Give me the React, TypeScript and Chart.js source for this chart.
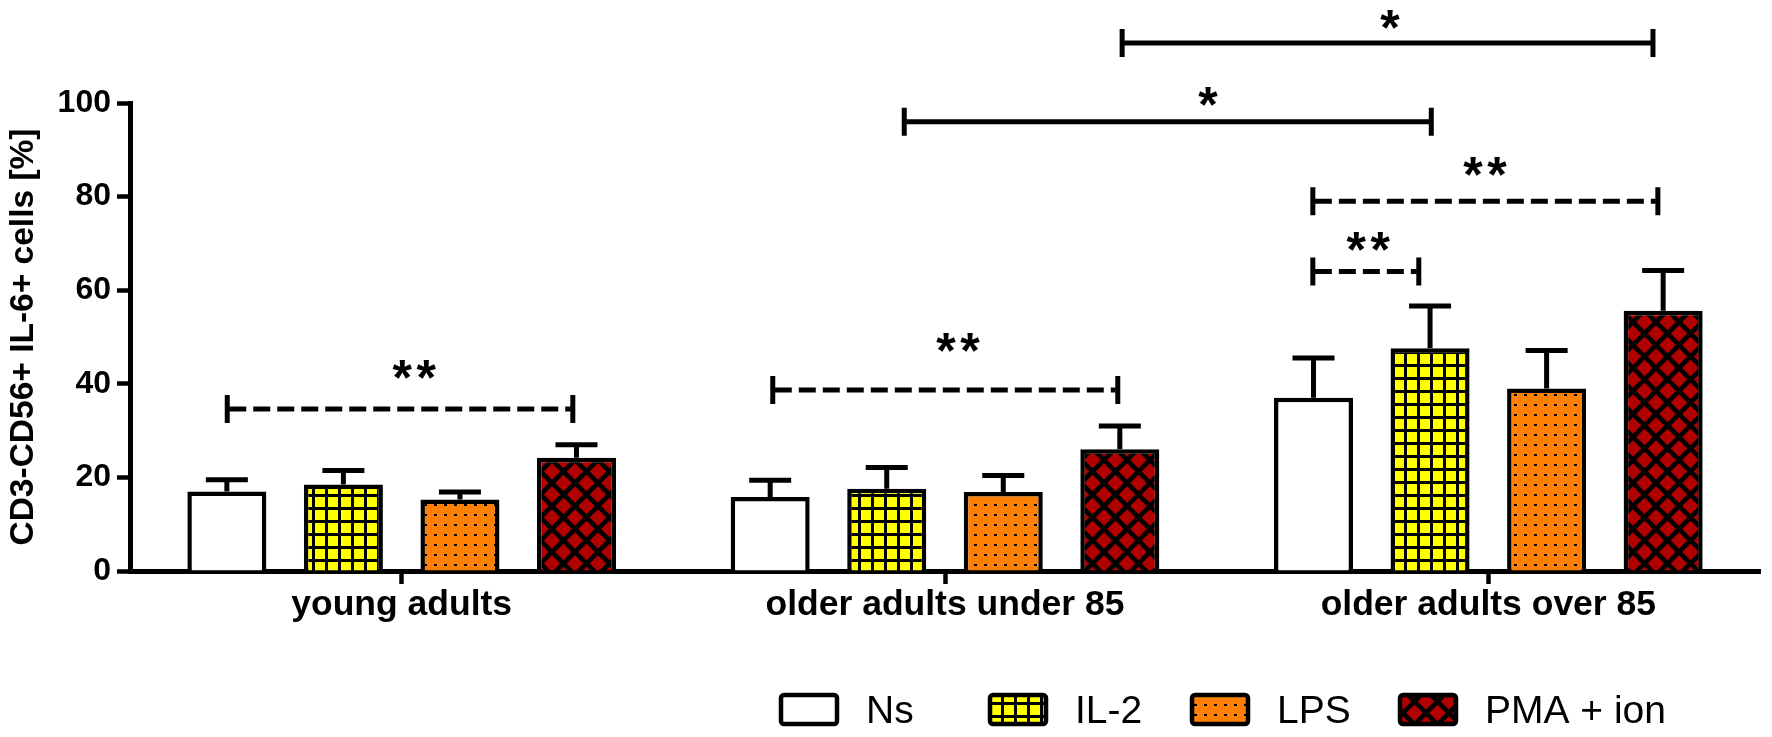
import React, { useEffect, useRef } from "react";
import { Chart, registerables } from "chart.js";

Chart.register(...registerables);

// ---------- data ----------
const categories = ["young adults", "older adults under 85", "older adults over 85"];
const seriesNames = ["Ns", "IL-2", "LPS", "PMA + ion"];
const nsValues = [17.0, 15.8, 37.0];
const il2Values = [18.5, 17.6, 47.6];
const lpsValues = [15.3, 16.9, 39.0];
const pmaValues = [24.2, 26.0, 55.6];
const nsErrors = [2.5, 3.6, 8.5];
const il2Errors = [3.0, 4.5, 9.0];
const lpsErrors = [1.6, 3.5, 8.1];
const pmaErrors = [2.8, 5.0, 8.6];
const yTicks = [0, 20, 40, 60, 80, 100];
const yTitle = "CD3-CD56+ IL-6+ cells [%]";

// significance brackets (x in category units, y in % units)
const bracketFrom = [-0.321, 0.683, 1.677, 1.677, 0.925, 1.326];
const bracketTo = [0.315, 1.318, 1.872, 2.312, 1.895, 2.303];
const bracketLevel = [34.6, 38.7, 64.0, 79.0, 96.0, 112.8];
const bracketDashed = [true, true, true, true, false, false];
const bracketText = ["**", "**", "**", "**", "*", "*"];
const bracketTextX = [0.023, 1.024, 1.779, 1.994, 1.484, 1.819];
const bracketTextLevel = [43.1, 48.9, 70.4, 86.5, 101.3, 117.8];

const seriesValues = [nsValues, il2Values, lpsValues, pmaValues];
const seriesErrors = [nsErrors, il2Errors, lpsErrors, pmaErrors];

const FONT = '"Liberation Sans", Arial, Helvetica, sans-serif';

function makePattern(kind: string): CanvasPattern | string {
  if (kind === "plain") return "#FFFFFF";
  const c = document.createElement("canvas");
  const ctx = c.getContext("2d")!;
  if (kind === "grid") {
    const P = 13;
    c.width = P; c.height = P;
    ctx.fillStyle = "#FFFF00"; ctx.fillRect(0, 0, P, P);
    ctx.fillStyle = "#000"; ctx.fillRect(0, 0, P, 3); ctx.fillRect(0, 0, 3, P);
  } else if (kind === "dots") {
    const P = 10;
    c.width = P; c.height = P;
    ctx.fillStyle = "#FF8000"; ctx.fillRect(0, 0, P, P);
    ctx.fillStyle = "#000"; ctx.fillRect(4, 4, 3, 2);
  } else {
    const P = 23;
    c.width = P; c.height = P;
    ctx.fillStyle = "#B00000"; ctx.fillRect(0, 0, P, P);
    ctx.strokeStyle = "#000"; ctx.lineWidth = 4.5;
    ctx.beginPath();
    for (const k of [-1, 0, 1]) { ctx.moveTo(k * P - P, -P); ctx.lineTo(k * P + 2 * P, 2 * P); }
    for (const k of [0, 1, 2]) { ctx.moveTo(k * P + P, -P); ctx.lineTo(k * P - 2 * P, 2 * P); }
    ctx.stroke();
  }
  return ctx.createPattern(c, "repeat")!;
}

export default function App() {
  const ref = useRef<HTMLCanvasElement | null>(null);

  useEffect(() => {
    const canvas = ref.current!;
    const fills = [makePattern("plain"), makePattern("grid"), makePattern("dots"), makePattern("cross")];

    const errorBars = {
      id: "errorBars",
      afterDatasetsDraw(chart: any) {
        const ctx = chart.ctx;
        const y = chart.scales.y;
        ctx.save();
        ctx.strokeStyle = "#000";
        ctx.lineWidth = 5;
        ctx.lineCap = "butt";
        chart.data.datasets.forEach((ds: any, di: number) => {
          const meta = chart.getDatasetMeta(di);
          meta.data.forEach((bar: any, i: number) => {
            const top = y.getPixelForValue(seriesValues[di][i] + seriesErrors[di][i]);
            ctx.beginPath();
            ctx.moveTo(bar.x, bar.y);
            ctx.lineTo(bar.x, top);
            ctx.moveTo(bar.x - 21, top);
            ctx.lineTo(bar.x + 21, top);
            ctx.stroke();
          });
        });
        ctx.restore();
      },
    };

    const brackets = {
      id: "brackets",
      afterDraw(chart: any) {
        const ctx = chart.ctx;
        const xs = chart.scales.x;
        const ys = chart.scales.y;
        ctx.save();
        ctx.strokeStyle = "#000";
        ctx.fillStyle = "#000";
        ctx.lineWidth = 5;
        ctx.lineCap = "butt";
        bracketFrom.forEach((from, i) => {
          const x1 = xs.getPixelForValue(from);
          const x2 = xs.getPixelForValue(bracketTo[i]);
          const yy = ys.getPixelForValue(bracketLevel[i]);
          ctx.setLineDash(bracketDashed[i] ? [17, 7] : []);
          ctx.beginPath();
          ctx.moveTo(x1 + 2, yy);
          ctx.lineTo(x2 - 2, yy);
          ctx.stroke();
          ctx.setLineDash([]);
          ctx.beginPath();
          ctx.moveTo(x1, yy - 14); ctx.lineTo(x1, yy + 14);
          ctx.moveTo(x2, yy - 14); ctx.lineTo(x2, yy + 14);
          ctx.stroke();
          // asterisks
          const tx = xs.getPixelForValue(bracketTextX[i]);
          const ty = ys.getPixelForValue(bracketTextLevel[i]);
          ctx.font = `bold 50px ${FONT}`;
          ctx.textAlign = "center";
          ctx.textBaseline = "alphabetic";
          const m = ctx.measureText("*");
          const base = ty + (m.actualBoundingBoxAscent - m.actualBoundingBoxDescent) / 2;
          const n = bracketText[i].length;
          const step = 24;
          for (let k = 0; k < n; k++) {
            ctx.fillText("*", tx + (k - (n - 1) / 2) * step, base);
          }
        });
        ctx.restore();
      },
    };

    const customLegend = {
      id: "customLegend",
      afterDraw(chart: any) {
        const ctx = chart.ctx;
        const boxX = [781, 990, 1192, 1400];
        const boxY = 695, boxW = 56, boxH = 29;
        ctx.save();
        seriesNames.forEach((name, i) => {
          ctx.fillStyle = fills[i] as any;
          ctx.fillRect(boxX[i], boxY, boxW, boxH);
          ctx.strokeStyle = "#000";
          ctx.lineWidth = 4.5;
          ctx.beginPath();
          if ((ctx as any).roundRect) (ctx as any).roundRect(boxX[i], boxY, boxW, boxH, 3);
          else ctx.rect(boxX[i], boxY, boxW, boxH);
          ctx.stroke();
          ctx.fillStyle = "#000";
          ctx.font = `39px ${FONT}`;
          ctx.textAlign = "left";
          ctx.textBaseline = "alphabetic";
          ctx.fillText(name, boxX[i] + 85, 723);
        });
        ctx.restore();
      },
    };

    const chart = new Chart(canvas, {
      type: "bar",
      data: {
        labels: categories,
        datasets: seriesNames.map((name, i) => ({
          label: name,
          data: seriesValues[i],
          backgroundColor: fills[i] as any,
          borderColor: "#000",
          borderWidth: 4.5,
          categoryPercentage: 0.858,
          barPercentage: 0.678,
        })),
      },
      options: {
        responsive: false,
        animation: false,
        devicePixelRatio: 1,
        events: [],
        layout: { padding: { top: 103, right: 12, left: 0, bottom: 0 } },
        plugins: { legend: { display: false }, tooltip: { enabled: false } },
        scales: {
          x: {
            type: "category",
            afterFit: (s: any) => { s.height = 166; },
            grid: { display: true, drawOnChartArea: false, drawTicks: true, tickLength: 13, tickWidth: 4.5, tickColor: "#000", offset: false },
            border: { display: true, color: "#000", width: 5 },
            ticks: { color: "#000", font: { family: FONT, size: 35.5, weight: "bold" }, padding: 0, maxRotation: 0, autoSkip: false },
          },
          y: {
            min: 0,
            max: 100,
            afterFit: (s: any) => { s.width = 130; },
            afterBuildTicks: (s: any) => { s.ticks = yTicks.map((v) => ({ value: v })); },
            grid: { display: true, drawOnChartArea: false, drawTicks: true, tickLength: 13, tickWidth: 4.5, tickColor: "#000" },
            border: { display: true, color: "#000", width: 5 },
            ticks: { color: "#000", font: { family: FONT, size: 32, weight: "bold" }, padding: 6 },
            title: { display: true, text: yTitle, color: "#000", font: { family: FONT, size: 33.5, weight: "bold" }, padding: { top: 4, bottom: 4 } },
          },
        },
      },
      plugins: [errorBars, brackets, customLegend],
    } as any);

    return () => chart.destroy();
  }, []);

  return (
    <div style={{ position: "absolute", left: 0, top: 0, width: 1772, height: 737, background: "#fff" }}>
      <canvas ref={ref} width={1772} height={737} style={{ display: "block" }} />
    </div>
  );
}
